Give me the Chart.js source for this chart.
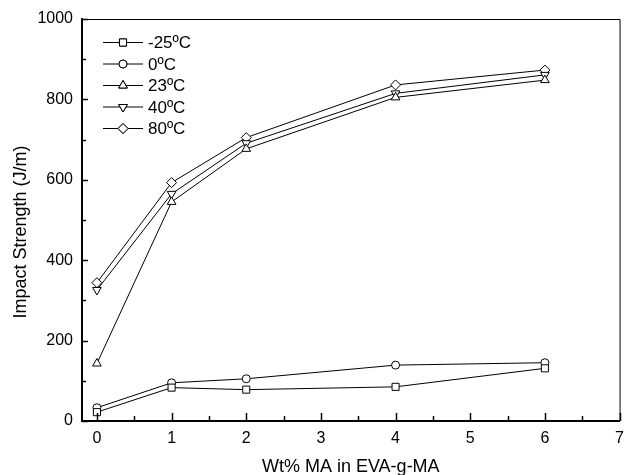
<!DOCTYPE html>
<html>
<head>
<meta charset="utf-8">
<script src="https://cdn.jsdelivr.net/npm/chart.js@4/dist/chart.umd.min.js"></script>
<style>
  html, body { margin: 0; padding: 0; background: #fff; }
  #wrap { width: 632px; height: 475px; }
</style>
</head>
<body>
<div id="wrap"><canvas id="impactChart" width="632" height="475"></canvas></div>
<script>
// Data
const wtMA = [0, 1, 2, 4, 6];
const seriesLabels = ['-25ºC', '0ºC', '23ºC', '40ºC', '80ºC'];
const minus25 = [22, 83, 78, 85, 131];
const zero = [33, 95, 105, 139, 145];
const t23 = [143, 545, 677, 805, 848];
const t40 = [326, 565, 691, 815, 861];
const t80 = [344, 593, 705, 836, 873];
const xTicks = [0, 1, 2, 3, 4, 5, 6, 7];
const yTicks = [0, 200, 400, 600, 800, 1000];
const xTitle = 'Wt% MA in EVA-g-MA';
const yTitle = 'Impact Strength (J/m)';

const FONT = "'Liberation Sans', Arial, sans-serif";

function pts(vals) {
    return wtMA.map((x, i) => ({ x: x, y: vals[i] }));
}

function makeSet(label, vals, style, radius, rotation) {
    return {
        label: label,
        data: pts(vals),
        borderColor: '#000',
        borderWidth: 1,
        backgroundColor: '#fff',
        pointStyle: style,
        pointRadius: radius,
        pointRotation: rotation,
        pointBorderColor: '#000',
        pointBackgroundColor: '#fff',
        pointBorderWidth: 1,
        fill: false,
        tension: 0
    };
}

// inward ticks, frame, axis titles and legend
const extras = {
    id: 'extras',
    afterDraw(chart) {
        const ctx = chart.ctx;
        const area = chart.chartArea;
        const xs = chart.scales.x;
        const ys = chart.scales.y;
        ctx.save();
        ctx.strokeStyle = '#000';

        // top and right frame
        ctx.lineWidth = 1;
        ctx.beginPath();
        ctx.moveTo(area.left, area.top + 0.5);
        ctx.lineTo(area.right + 0.5, area.top + 0.5);
        ctx.lineTo(area.right + 0.5, area.bottom);
        ctx.stroke();

        // x ticks (major + minor), pointing up
        ctx.lineWidth = 1.5;
        for (let v = 0; v <= 7; v += 0.5) {
            const px = Math.round(xs.getPixelForValue(v)) + 0.5;
            const len = Number.isInteger(v) ? 8 : 5;
            ctx.beginPath();
            ctx.moveTo(px, area.bottom);
            ctx.lineTo(px, area.bottom - len);
            ctx.stroke();
        }
        // y ticks, pointing right
        for (let v = 0; v <= 1000; v += 100) {
            const py = Math.round(ys.getPixelForValue(v)) + 0.5;
            const len = v % 200 === 0 ? 6 : 4;
            ctx.beginPath();
            ctx.moveTo(area.left, py);
            ctx.lineTo(area.left + len, py);
            ctx.stroke();
        }

        // axis titles
        ctx.fillStyle = '#000';
        ctx.textAlign = 'center';
        ctx.textBaseline = 'alphabetic';
        ctx.font = '18px ' + FONT;
        ctx.fillText(xTitle, (area.left + area.right) / 2, 471.5);
        ctx.save();
        ctx.translate(26, 232);
        ctx.rotate(-Math.PI / 2);
        ctx.fillText(yTitle, 0, 0);
        ctx.restore();

        // legend
        const lx = 103, lineLen = 40, ly0 = 42.5, step = 21.5;
        ctx.font = '17px ' + FONT;
        ctx.textBaseline = 'middle';
        ctx.textAlign = 'left';
        chart.data.datasets.forEach((ds, i) => {
            const y = ly0 + i * step;
            ctx.lineWidth = 1;
            ctx.beginPath();
            ctx.moveTo(lx, y);
            ctx.lineTo(lx + lineLen, y);
            ctx.stroke();
            ctx.fillStyle = '#fff';
            Chart.helpers.drawPoint(ctx, {
                pointStyle: ds.pointStyle,
                radius: ds.pointRadius,
                rotation: ds.pointRotation,
                borderWidth: 1
            }, lx + lineLen / 2, y);
            ctx.fill();
            ctx.stroke();
            ctx.fillStyle = '#000';
            ctx.fillText(ds.label, lx + lineLen + 5, y + 1);
        });
        ctx.restore();
    }
};

const ctx = document.getElementById('impactChart').getContext('2d');
const impactChart = new Chart(ctx, {
    type: 'line',
    data: {
        datasets: [
            makeSet(seriesLabels[0], minus25, 'rect', 5, 0),
            makeSet(seriesLabels[1], zero, 'circle', 4, 0),
            makeSet(seriesLabels[2], t23, 'triangle', 5, 0),
            makeSet(seriesLabels[3], t40, 'triangle', 5, 180),
            makeSet(seriesLabels[4], t80, 'rectRot', 5, 0)
        ]
    },
    options: {
        responsive: false,
        animation: false,
        layout: { padding: { top: 19, right: 5, left: 0, bottom: 0 } },
        plugins: {
            legend: { display: false },
            tooltip: { enabled: false }
        },
        scales: {
            x: {
                type: 'linear',
                min: -0.2,
                max: 7,
                afterBuildTicks: s => { s.ticks = xTicks.map(v => ({ value: v })); },
                afterFit: s => { s.height = 54; },
                grid: { display: false, drawTicks: false },
                border: { display: true, color: '#000', width: 2 },
                ticks: {
                    color: '#000',
                    font: { family: FONT, size: 16 },
                    padding: 8,
                    maxRotation: 0,
                    autoSkip: false,
                    callback: v => String(v)
                }
            },
            y: {
                min: 0,
                max: 1000,
                afterBuildTicks: s => { s.ticks = yTicks.map(v => ({ value: v })); },
                afterFit: s => { s.width = 82; },
                grid: { display: false, drawTicks: false },
                border: { display: true, color: '#000', width: 2 },
                ticks: {
                    color: '#000',
                    font: { family: FONT, size: 16 },
                    padding: 9,
                    callback: v => String(v)
                }
            }
        }
    },
    plugins: [extras]
});
</script>
</body>
</html>
